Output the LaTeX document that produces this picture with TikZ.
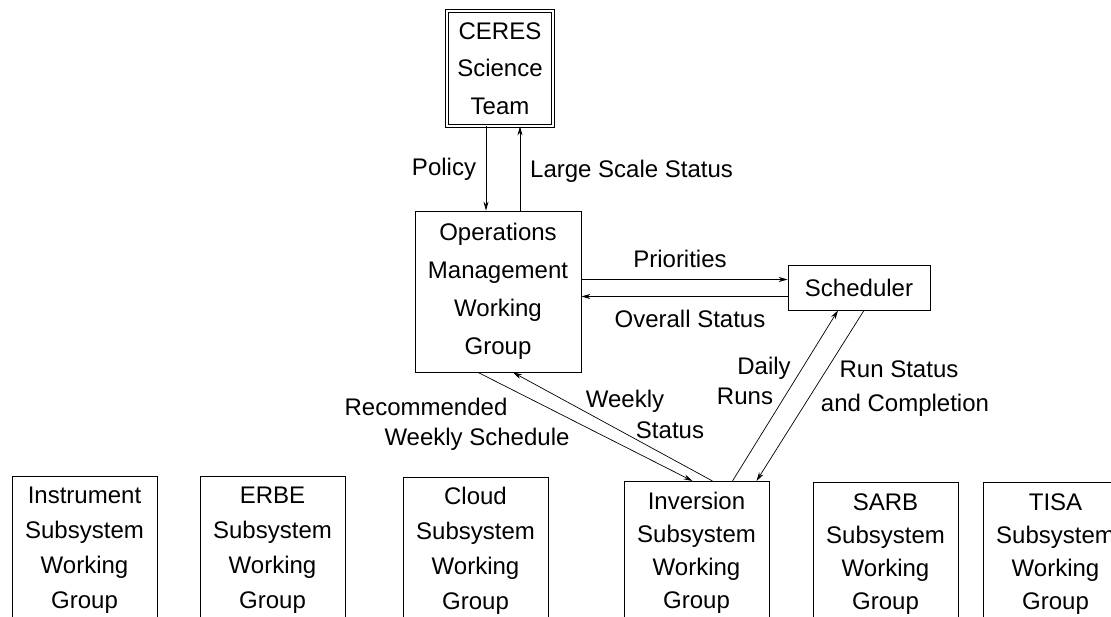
\documentclass[tikz,border=0pt]{standalone}
\usepackage{fontspec}
\setmainfont{Liberation Sans}
\usetikzlibrary{positioning, arrows.meta}

\begin{document}
\begin{tikzpicture}[x=1pt, y=-1pt, font=\fontsize{24}{38}\selectfont,
    box/.style={draw, line width=0.8pt, inner sep=0pt, align=center},
    group/.style={box, anchor=north, minimum width=145pt, minimum height=147pt,
                  font=\fontsize{24}{35}\selectfont},
    lowgroup/.style={group, minimum height=143pt, font=\fontsize{24}{33}\selectfont},
    tag/.style={inner sep=0pt, text height=17pt, text depth=5pt},
    flow/.style={->, line width=0.7pt},
    >={Stealth[length=9pt, width=5pt]}]

    % Fix the page and cut the open boxes at the bottom
    \useasboundingbox (0,0) rectangle (1111,617);
    \clip (0,0) rectangle (1111,617);

    % Add the boxes
    \node[box, double, double distance=2.5pt, minimum width=106pt, minimum height=115pt,
          font=\fontsize{24}{37.5}\selectfont] (ceres) at (500,68.5) {CERES\\Science\\Team};
    \node[box, minimum width=166pt, minimum height=161pt] (ops) at (498,291.5)
        {Operations\\Management\\Working\\Group};
    \node[box, minimum width=142pt, minimum height=45pt] (sched) at (859,287.5) {Scheduler};

    \node[group]    (inst)  at (84.5,476)  {Instrument\\Subsystem\\Working\\Group};
    \node[group]    (erbe)  at (272.5,476) {ERBE\\Subsystem\\Working\\Group};
    \node[group]    (cloud) at (475.5,477) {Cloud\\Subsystem\\Working\\Group};
    \node[lowgroup] (inv)   at (696.5,481) {Inversion\\Subsystem\\Working\\Group};
    \node[lowgroup] (sarb)  at (885.5,482) {SARB\\Subsystem\\Working\\Group};
    \node[lowgroup] (tisa)  at (1055.5,482) {TISA\\Subsystem\\Working\\Group};

    % Connect the boxes with arrows
    \coordinate (pol) at ([xshift=-14pt]ceres.south);
    \coordinate (lss) at ([xshift=22pt]ops.north);
    \coordinate (pri) at ([yshift=8pt]sched.west);
    \coordinate (ovr) at ([yshift=-9pt]sched.west);
    \draw[flow] (pol) -- (pol |- ops.north);
    \draw[flow] (lss) -- (lss |- ceres.south);
    \draw[flow] (pri -| ops.east) -- (pri);
    \draw[flow] (ovr) -- (ovr -| ops.east);
    \draw[flow] ([xshift=-20pt]ops.south) -- ([xshift=-4pt]inv.north);
    \draw[flow] ([xshift=16pt]inv.north) -- ([xshift=15pt]ops.south);
    \draw[flow] ([xshift=36pt]inv.north) -- ([xshift=-21pt]sched.south);
    \draw[flow] ([xshift=5pt]sched.south) -- ([xshift=60pt]inv.north);

    % Add the labels
    \node[tag] (lpol)  at (444,170) {Policy};
    \node[tag, anchor=west] (llss) at (530,172) {Large Scale Status};
    \node[tag] (lpri)  at (680,262) {Priorities};
    \node[tag] (lovr)  at (690,322) {Overall Status};
    \node[tag] (lday)  at (764,368) {Daily};
    \node[tag] (lrun)  at (745,398) {Runs};
    \node[tag] (lrst)  at (899,372) {Run Status};
    \node[tag] (lcmp)  at (905,406) {and Completion};
    \node[tag] (lwk)   at (625,401) {Weekly};
    \node[tag] (lwst)  at (670,432) {Status};
    \node[tag] (lrec)  at (426,409) {Recommended};
    \node[tag] (lwsch) at (477,439) {Weekly Schedule};
\end{tikzpicture}
\end{document}
